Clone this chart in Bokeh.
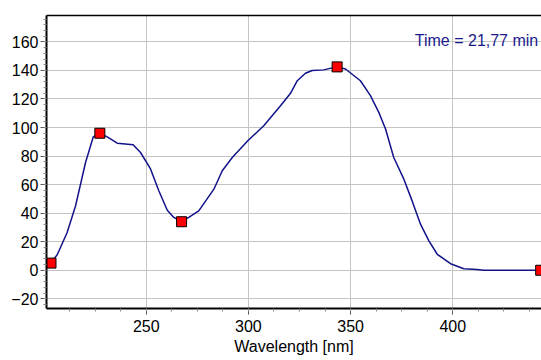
from bokeh.plotting import figure
from bokeh.models import (LinearAxis, SingleIntervalTicker, FixedTicker, Label,
                          Range1d, ColumnDataSource, Grid)
from bokeh.embed import file_html
from bokeh.resources import INLINE

# UV spectrum (absorbance in mAU) at the selected retention time
wavelength = [203.4, 206.5, 211.3, 215.4, 220.3, 224.1, 227.3, 230.9, 235.8, 243.6,
              247.2, 252.1, 256.2, 260.3, 263.5, 267.3, 270.8, 275.7, 283.1, 287.2,
              292.1, 299.7, 307.5, 315.7, 320.6, 323.9, 327.9, 331.2, 336.9, 341.0,
              343.4, 347.5, 354.8, 359.7, 363.8, 367.1, 371.1, 376.0, 380.1, 384.2,
              388.3, 392.4, 398.9, 405.4, 411.9, 415.2, 443.4]
absorbance = [5.0, 11.0, 26.5, 45.0, 75.5, 93.5, 96.0, 93.5, 89.0, 88.0,
              82.5, 71.0, 55.5, 42.0, 37.0, 34.0, 37.0, 41.6, 56.8, 69.7,
              79.0, 90.7, 101.3, 115.3, 124.0, 132.8, 138.0, 140.0, 140.4, 141.8,
              142.5, 141.0, 132.8, 122.3, 110.6, 99.0, 79.0, 64.0, 48.6, 32.3,
              20.6, 11.2, 4.6, 1.1, 0.5, 0.0, 0.0]

# Marked extrema
peak_wavelength = [203.4, 227.3, 267.3, 343.4, 443.0]
peak_absorbance = [5.0, 96.0, 34.0, 142.5, 0.0]

time_label = "Time = 21,77 min"
x_title = "Wavelength [nm]"

FONT = "Liberation Sans"

p = figure(width=541, height=360, output_backend="svg", toolbar_location=None,
           x_range=Range1d(201.2, 443.4), y_range=Range1d(-26.8, 178.5),
           x_axis_location=None, y_axis_location=None,
           min_border_left=46, min_border_right=0, min_border_top=15,
           min_border_bottom=52)
p.outline_line_color = None
p.background_fill_color = "white"
p.border_fill_color = "white"

xaxis = LinearAxis(ticker=SingleIntervalTicker(interval=50, num_minor_ticks=4),
                   axis_label=x_title)
yaxis = LinearAxis(ticker=SingleIntervalTicker(interval=20, num_minor_ticks=5))
top = LinearAxis(ticker=FixedTicker(ticks=[]), major_tick_out=0, minor_tick_out=0,
                 axis_line_color="black", axis_line_width=1.5)

for ax in (xaxis, yaxis):
    ax.axis_line_color = "black"
    ax.axis_line_width = 2
    ax.major_tick_in = 0
    ax.major_tick_out = 6
    ax.minor_tick_in = 0
    ax.minor_tick_out = 3
    ax.major_tick_line_color = "#555555"
    ax.minor_tick_line_color = "#888888"
    ax.major_label_text_font = FONT
    ax.major_label_text_font_size = "16px"
    ax.major_label_text_color = "black"
    ax.axis_label_text_font = FONT
    ax.axis_label_text_font_size = "16px"
    ax.axis_label_text_font_style = "normal"
    ax.axis_label_text_color = "black"

xaxis.major_label_standoff = 5
xaxis.axis_label_standoff = 3
yaxis.major_label_standoff = 2

p.add_layout(xaxis, "below")
p.add_layout(yaxis, "left")
p.add_layout(top, "above")

p.xgrid.visible = False
p.ygrid.visible = False
p.add_layout(Grid(dimension=0, ticker=xaxis.ticker, grid_line_color="#c4c4c4",
                  grid_line_width=1))
p.add_layout(Grid(dimension=1, ticker=yaxis.ticker, grid_line_color="#c4c4c4",
                  grid_line_width=1))

src = ColumnDataSource(dict(x=wavelength, y=absorbance))
p.line("x", "y", source=src, line_color="#12128a", line_width=1.5)

pk = ColumnDataSource(dict(x=peak_wavelength, y=peak_absorbance))
p.scatter("x", "y", source=pk, marker="square", size=10, fill_color="#ff0000",
          line_color="black", line_width=1)

p.add_layout(Label(x=381.4, y=160.9, text=time_label, text_font=FONT,
                   text_font_size="16px", text_color="#1a1a8c",
                   text_baseline="alphabetic"))

open("out.html", "w").write(file_html(p, INLINE))
